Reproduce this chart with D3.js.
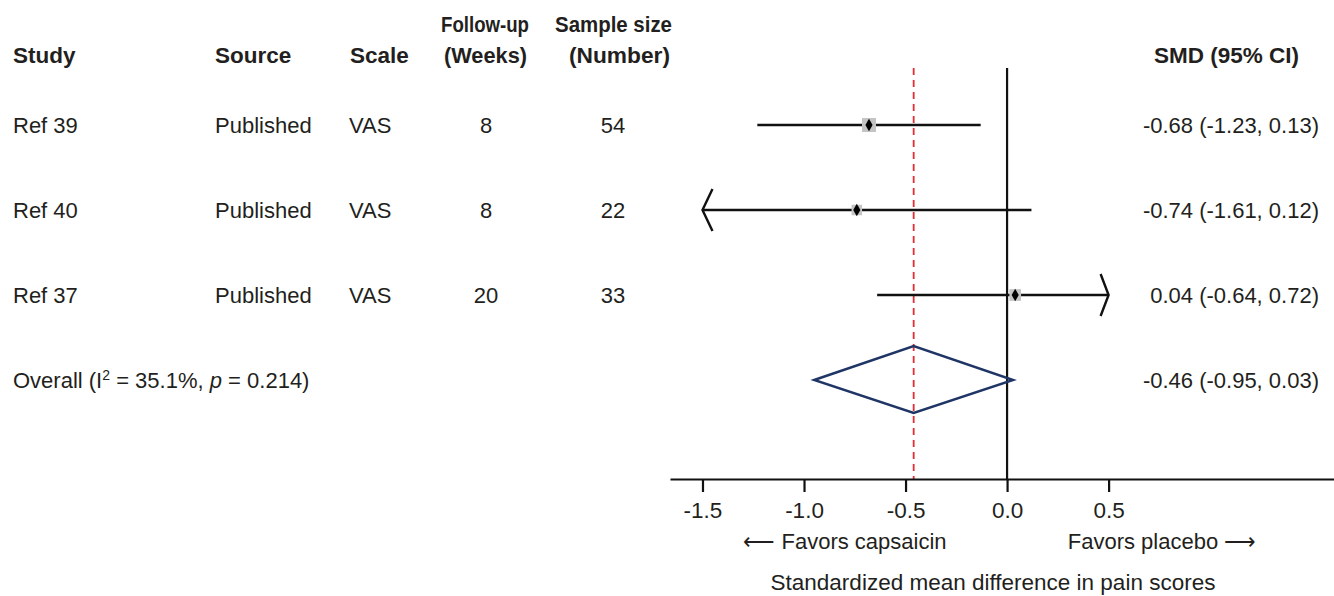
<!DOCTYPE html>
<html lang="en">
<head>
    <meta charset="UTF-8">
    <title>Forest plot - capsaicin vs placebo</title>
    <script src="https://d3js.org/d3.v7.min.js"></script>
    <style>
        body{
            margin: 0;
            background: white;
        }
        svg text{
            font-family: "Liberation Sans", Arial, sans-serif;
            fill: #231f20;
        }
        .head{
            font-weight: bold;
            font-size: 22.5px;
        }
        .cell{
            font-size: 22px;
        }
        .tick text{
            font-size: 22.5px;
        }
    </style>
</head>
<body>
<svg id="chart" width="1334" height="596"></svg>
<script>
    // data
    let studies = ["Ref 39", "Ref 40", "Ref 37"]
    let sources = ["Published", "Published", "Published"]
    let scales = ["VAS", "VAS", "VAS"]
    let followUp = [8, 8, 20]
    let sampleSize = [54, 22, 33]
    let smd = [-0.68, -0.74, 0.04]
    let ciLow = [-1.23, -1.61, -0.64]
    let ciHigh = [-0.13, 0.12, 0.72]
    let smdLabels = ["-0.68 (-1.23, 0.13)", "-0.74 (-1.61, 0.12)", "0.04 (-0.64, 0.72)"]
    let overall = {est: -0.46, lo: -0.95, hi: 0.03, label: "-0.46 (-0.95, 0.03)"}
    let xTicks = [-1.5, -1.0, -0.5, 0.0, 0.5]
    let clip = [-1.5, 0.5]

    let svg = d3.select("#chart")

    let rows = studies.concat(["Overall"])
    let y = d3.scalePoint().domain(rows).range([125, 380])
    let x = d3.scaleLinear().domain([-1.66, 1.61]).range([670, 1334])
    let boxSize = d3.scaleLinear().domain([22, 54]).range([10.5, 14])

    let axisY = 479
    let lineTop = 68
    let ink = "#111"

    // column headers
    let heads = svg.append("g").attr("class", "head")
    heads.append("text").attr("x", 13).attr("y", 63).text("Study")
    heads.append("text").attr("x", 215).attr("y", 63).text("Source")
    heads.append("text").attr("x", 350).attr("y", 63).text("Scale")
    // the two-line headers are set narrower in the original
    let narrow = [
        ["Follow-up", 441, 32, 88],
        ["(Weeks)", 444, 63, 83],
        ["Sample size", 555, 32, 117],
        ["(Number)", 569, 63, 101]
    ]
    narrow.forEach(h => {
        heads.append("text").attr("x", h[1]).attr("y", h[2])
            .attr("textLength", h[3]).attr("lengthAdjust", "spacingAndGlyphs")
            .text(h[0])
    })
    heads.append("text").attr("x", 1299).attr("y", 63).attr("text-anchor", "end").text("SMD (95% CI)")

    // table cells
    let cells = svg.append("g").attr("class", "cell")
    studies.forEach((s, i) => {
        let by = y(s) + 8
        cells.append("text").attr("x", 13).attr("y", by).text(s)
        cells.append("text").attr("x", 215).attr("y", by).text(sources[i])
        cells.append("text").attr("x", 349).attr("y", by).text(scales[i])
        cells.append("text").attr("x", 486).attr("y", by).attr("text-anchor", "middle").text(followUp[i])
        cells.append("text").attr("x", 613).attr("y", by).attr("text-anchor", "middle").text(sampleSize[i])
        cells.append("text").attr("x", 1319).attr("y", by).attr("text-anchor", "end").text(smdLabels[i])
    })

    let ov = cells.append("text").attr("x", 13).attr("y", y("Overall") + 8)
    ov.append("tspan").text("Overall (I")
    ov.append("tspan").attr("dy", -8).style("font-size", "14px").text("2")
    ov.append("tspan").attr("dy", 8).text(" = 35.1%, ")
    ov.append("tspan").style("font-style", "italic").text("p")
    ov.append("tspan").text(" = 0.214)")
    cells.append("text").attr("x", 1319).attr("y", y("Overall") + 8)
        .attr("text-anchor", "end").text(overall.label)

    // zero line and pooled estimate line
    svg.append("line")
        .attr("x1", x(0)).attr("x2", x(0))
        .attr("y1", lineTop).attr("y2", axisY)
        .attr("stroke", ink).attr("stroke-width", 2.2)
    svg.append("line")
        .attr("x1", x(overall.est)).attr("x2", x(overall.est))
        .attr("y1", lineTop).attr("y2", axisY)
        .attr("stroke", "#e32b36").attr("stroke-width", 1.8)
        .attr("stroke-dasharray", "7,5")

    // confidence intervals with arrows when cut off
    let ci = svg.append("g")
    studies.forEach((s, i) => {
        let cy = y(s)
        let lo = Math.max(ciLow[i], clip[0])
        let hi = Math.min(ciHigh[i], clip[1])
        ci.append("line")
            .attr("x1", x(lo)).attr("x2", x(hi))
            .attr("y1", cy).attr("y2", cy)
            .attr("stroke", ink).attr("stroke-width", 2.4)
        if (ciLow[i] < clip[0]) {
            ci.append("path")
                .attr("d", d3.line()([[x(lo) + 10, cy - 21], [x(lo), cy], [x(lo) + 10, cy + 21]]))
                .attr("fill", "none").attr("stroke", ink).attr("stroke-width", 2.4)
        }
        if (ciHigh[i] > clip[1]) {
            ci.append("path")
                .attr("d", d3.line()([[x(hi) - 8, cy - 21], [x(hi), cy], [x(hi) - 8, cy + 21]]))
                .attr("fill", "none").attr("stroke", ink).attr("stroke-width", 2.4)
        }
        let b = boxSize(sampleSize[i])
        ci.append("rect")
            .attr("x", x(smd[i]) - b / 2).attr("y", cy - b / 2)
            .attr("width", b).attr("height", b)
            .attr("fill", "#c4c4c4")
        ci.append("path")
            .attr("transform", `translate(${x(smd[i])},${cy})`)
            .attr("d", d3.symbol(d3.symbolDiamond, 44)())
            .attr("fill", "#000")
    })

    // pooled diamond
    let oy = y("Overall")
    svg.append("path")
        .attr("d", d3.line()([
            [x(overall.lo), oy], [x(overall.est), oy - 34],
            [x(overall.hi), oy], [x(overall.est), oy + 33]
        ]) + "Z")
        .attr("fill", "none").attr("stroke", "#1f3566").attr("stroke-width", 2.4)

    // x axis
    let xAxis = d3.axisBottom(x)
        .tickValues(xTicks)
        .tickFormat(d3.format(".1f"))
        .tickSizeInner(13)
        .tickSizeOuter(0)
        .tickPadding(6)
    let ax = svg.append("g").attr("transform", `translate(0,${axisY})`).call(xAxis)
    ax.select(".domain").attr("stroke", ink).attr("stroke-width", 2.2)
    ax.selectAll(".tick line").attr("stroke", ink).attr("stroke-width", 2.2)
    ax.selectAll(".tick text").attr("fill", "#231f20").attr("font-size", null)
        .attr("dy", "0.9em")
        .text(d => d3.format(".1f")(d).replace("\u2212", "-"))

    // favours labels and axis title
    svg.append("text").attr("class", "cell")
        .attr("x", 845).attr("y", 549).attr("text-anchor", "middle")
        .text("\u27F5 Favors capsaicin")
    svg.append("text").attr("class", "cell")
        .attr("x", 1162).attr("y", 549).attr("text-anchor", "middle")
        .text("Favors placebo \u27F6")
    svg.append("text").attr("class", "cell")
        .attr("x", 993).attr("y", 590).attr("text-anchor", "middle")
        .style("font-size", "22.5px")
        .text("Standardized mean difference in pain scores")
</script>
</body>
</html>
